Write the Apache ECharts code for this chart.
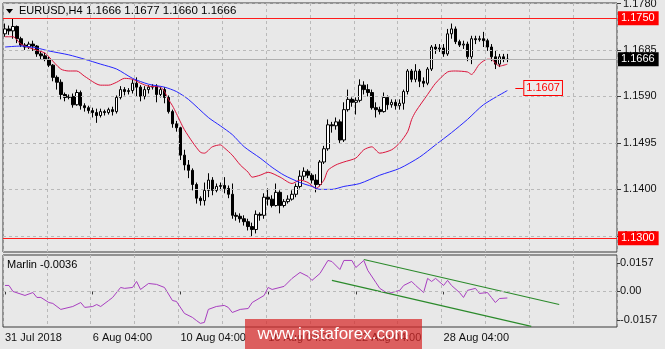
<!DOCTYPE html>
<html><head><meta charset="utf-8">
<script src="https://cdn.jsdelivr.net/npm/echarts@6/dist/echarts.min.js"></script>
<style>html,body{margin:0;padding:0;background:#e8e8e8}#c{width:665px;height:349px}</style>
</head><body><div id="c"></div><script>
const FONT = '"Liberation Sans", Arial, sans-serif';
const symbolName = 'EURUSD,H4';
const indicatorName = 'Marlin';
const slotCount = 154;
const timeLabels = ['31 Jul 2018','6 Aug 04:00','10 Aug 04:00','16 Aug 04:00','22 Aug 04:00','28 Aug 04:00'];
const labelStep = 22;
const priceTicks = [1.1780,1.1685,1.1590,1.1495,1.1400,1.1305];
const marlinTicks = [0.0157,0,-0.0157];
const levelLines = [1.1750,1.1300];
const lastPrice = 1.1666;
const maLabelPrice = 1.1607;
const maLabelSpan = [128,130];
const marlinLast = -0.0036;

const open = [1.1718,1.1728,1.1724,1.1733,1.1708,1.1695,1.1691,1.1697,1.1693,1.1677,
1.1673,1.1666,1.1654,1.1629,1.1619,1.1594,1.1588,1.1590,1.1573,1.1598,
1.1571,1.1567,1.1561,1.1557,1.1551,1.1559,1.1557,1.1563,1.1559,1.1588,
1.1604,1.1600,1.1602,1.1617,1.1609,1.1590,1.1604,1.1609,1.1611,1.1594,
1.1604,1.1588,1.1559,1.1534,1.1526,1.1470,1.1450,1.1439,1.1410,1.1382,
1.1377,1.1398,1.1419,1.1398,1.1406,1.1408,1.1402,1.1390,1.1347,1.1345,
1.1340,1.1334,1.1324,1.1318,1.1349,1.1347,1.1384,1.1380,1.1367,1.1394,
1.1367,1.1375,1.1380,1.1390,1.1406,1.1427,1.1437,1.1429,1.1419,1.1410,
1.1456,1.1483,1.1532,1.1530,1.1538,1.1501,1.1563,1.1584,1.1578,1.1582,
1.1613,1.1604,1.1598,1.1567,1.1563,1.1559,1.1588,1.1573,1.1578,1.1571,
1.1576,1.1600,1.1642,1.1625,1.1642,1.1621,1.1617,1.1646,1.1691,1.1687,
1.1689,1.1677,1.1718,1.1728,1.1702,1.1695,1.1697,1.1671,1.1708,1.1706,
1.1708,1.1704,1.1691,1.1671,1.1656,1.1671,1.1666];
const close = [1.1728,1.1724,1.1733,1.1708,1.1695,1.1691,1.1697,1.1693,1.1677,1.1673,
1.1666,1.1654,1.1629,1.1619,1.1594,1.1588,1.1590,1.1573,1.1598,1.1571,
1.1567,1.1561,1.1557,1.1551,1.1559,1.1557,1.1563,1.1559,1.1588,1.1604,
1.1600,1.1602,1.1617,1.1609,1.1590,1.1604,1.1609,1.1611,1.1594,1.1604,
1.1588,1.1559,1.1534,1.1526,1.1470,1.1450,1.1439,1.1410,1.1382,1.1377,
1.1398,1.1419,1.1398,1.1406,1.1408,1.1402,1.1390,1.1347,1.1345,1.1340,
1.1334,1.1324,1.1318,1.1349,1.1347,1.1384,1.1380,1.1367,1.1394,1.1367,
1.1375,1.1380,1.1390,1.1406,1.1427,1.1437,1.1429,1.1419,1.1410,1.1456,
1.1483,1.1532,1.1530,1.1538,1.1501,1.1563,1.1584,1.1578,1.1582,1.1613,
1.1604,1.1598,1.1567,1.1563,1.1559,1.1588,1.1573,1.1578,1.1571,1.1576,
1.1600,1.1642,1.1625,1.1642,1.1621,1.1617,1.1646,1.1691,1.1687,1.1689,
1.1677,1.1718,1.1728,1.1702,1.1695,1.1697,1.1671,1.1708,1.1706,1.1708,
1.1704,1.1691,1.1671,1.1656,1.1671,1.1666,1.1666];
const high = [1.1739,1.1735,1.1749,1.1735,1.1712,1.1699,1.1702,1.1704,1.1695,1.1683,
1.1679,1.1671,1.1656,1.1633,1.1625,1.1598,1.1594,1.1596,1.1604,1.1602,
1.1576,1.1571,1.1567,1.1565,1.1565,1.1563,1.1567,1.1569,1.1592,1.1611,
1.1609,1.1607,1.1625,1.1629,1.1613,1.1611,1.1613,1.1615,1.1615,1.1609,
1.1609,1.1592,1.1563,1.1540,1.1528,1.1481,1.1460,1.1443,1.1414,1.1386,
1.1414,1.1433,1.1425,1.1412,1.1414,1.1425,1.1408,1.1412,1.1353,1.1351,
1.1347,1.1340,1.1332,1.1357,1.1353,1.1392,1.1402,1.1388,1.1412,1.1398,
1.1380,1.1388,1.1398,1.1412,1.1439,1.1445,1.1441,1.1433,1.1431,1.1460,
1.1489,1.1543,1.1538,1.1547,1.1543,1.1578,1.1604,1.1588,1.1588,1.1625,
1.1621,1.1615,1.1604,1.1578,1.1569,1.1598,1.1592,1.1584,1.1584,1.1584,
1.1604,1.1646,1.1646,1.1656,1.1646,1.1629,1.1650,1.1695,1.1697,1.1697,
1.1697,1.1728,1.1739,1.1733,1.1706,1.1704,1.1702,1.1714,1.1714,1.1714,
1.1722,1.1708,1.1697,1.1683,1.1677,1.1677,1.1677];
const low = [1.1712,1.1716,1.1708,1.1699,1.1691,1.1685,1.1687,1.1683,1.1671,1.1666,
1.1662,1.1650,1.1621,1.1604,1.1584,1.1580,1.1584,1.1567,1.1571,1.1563,
1.1559,1.1555,1.1547,1.1536,1.1547,1.1551,1.1553,1.1551,1.1555,1.1584,
1.1592,1.1594,1.1596,1.1590,1.1580,1.1584,1.1596,1.1604,1.1578,1.1588,
1.1576,1.1555,1.1526,1.1518,1.1460,1.1439,1.1423,1.1398,1.1371,1.1367,
1.1367,1.1384,1.1388,1.1394,1.1398,1.1392,1.1382,1.1340,1.1336,1.1332,
1.1326,1.1316,1.1304,1.1310,1.1336,1.1340,1.1367,1.1363,1.1365,1.1351,
1.1363,1.1371,1.1377,1.1384,1.1402,1.1419,1.1423,1.1412,1.1394,1.1406,
1.1452,1.1479,1.1516,1.1522,1.1495,1.1497,1.1559,1.1569,1.1553,1.1578,
1.1594,1.1590,1.1563,1.1547,1.1553,1.1557,1.1563,1.1567,1.1563,1.1563,
1.1563,1.1594,1.1619,1.1619,1.1609,1.1609,1.1613,1.1642,1.1677,1.1681,
1.1671,1.1673,1.1708,1.1697,1.1691,1.1687,1.1662,1.1656,1.1697,1.1702,
1.1691,1.1683,1.1662,1.1646,1.1650,1.1660,1.1660];

// moving averages: [bar index, price]
const redMA = [[0,1.1712],[2,1.1712],[4,1.1697],[7,1.1687],[10,1.1679],[11,1.1671],[14,1.1646],[16,1.1642],[18,1.1642],[20,1.1631],
[24,1.1613],[26,1.1613],[28,1.1619],[30,1.1627],[32,1.1625],[34,1.1617],[36,1.1611],[39,1.1609],[40,1.1600],[41,1.1584],
[42,1.1571],[43,1.1555],[44,1.1538],[45,1.1522],[47,1.1497],[49,1.1476],[50,1.1474],[52,1.1487],[54,1.1491],[55,1.1485],
[57,1.1470],[59,1.1450],[61,1.1435],[62,1.1425],[64,1.1429],[66,1.1435],[69,1.1425],[72,1.1412],[74,1.1419],[76,1.1414],
[78,1.1402],[80,1.1419],[81,1.1439],[83,1.1450],[85,1.1456],[88,1.1464],[90,1.1481],[92,1.1487],[94,1.1474],[97,1.1481],
[99,1.1495],[101,1.1518],[102,1.1543],[103,1.1559],[106,1.1594],[108,1.1617],[111,1.1640],[113,1.1642],[116,1.1640],[117,1.1635],
[119,1.1656],[121,1.1666],[122,1.1666],[123,1.1658],[124,1.1652],[126,1.1656]];
const blueMA = [[0,1.1691],[4,1.1693],[8,1.1689],[11,1.1683],[16,1.1675],[20,1.1666],[24,1.1656],[28,1.1646],[32,1.1627],[36,1.1615],
[40,1.1609],[43,1.1600],[46,1.1584],[51,1.1547],[54,1.1530],[57,1.1512],[60,1.1487],[64,1.1464],[67,1.1445],[70,1.1429],
[74,1.1414],[77,1.1406],[79,1.1400],[82,1.1400],[85,1.1406],[89,1.1412],[94,1.1429],[99,1.1443],[104,1.1466],[108,1.1491],
[112,1.1516],[116,1.1543],[120,1.1573],[126,1.1602]];
const marlin = [[0,0.0033],[1,0.0033],[2,0],[5,-0.0022],[7,-0.0006],[8,-0.0033],[9,-0.0033],[11,-0.0061],[12,-0.0066],[14,-0.0099],
[17,-0.0083],[19,-0.0061],[20,-0.0088],[22,-0.0083],[23,-0.0072],[24,-0.0083],[26,-0.0050],[27,-0.0033],[29,0.0022],[30,0.0017],
[32,0.0022],[33,0.0055],[34,0.0011],[36,0.0044],[38,0.0039],[40,0.0022],[42,-0.0050],[43,-0.0055],[45,-0.0121],[47,-0.0143],
[48,-0.0160],[49,-0.0176],[50,-0.0171],[51,-0.0099],[53,-0.0083],[55,-0.0077],[56,-0.0088],[57,-0.0116],[59,-0.0099],[61,-0.0094],
[62,-0.0061],[65,-0.0022],[66,0.0022],[67,0.0011],[70,0.0028],[72,0.0072],[74,0.0105],[76,0.0083],[77,0.0061],[79,0.0099],
[81,0.0171],[82,0.0165],[84,0.0121],[85,0.0171],[87,0.0171],[88,0.0132],[90,0.0171],[91,0.0116],[93,0.0050],[94,0.0017],
[96,-0.0011],[97,-0.0006],[99,0.0006],[100,0.0033],[102,0.0055],[103,0.0033],[105,-0.0006],[106,0.0072],[107,0.0055],[108,0.0072],
[110,0.0033],[111,0.0061],[112,0.0033],[114,-0.0006],[115,-0.0033],[116,0.0006],[118,0.0017],[119,-0.0011],[121,-0.0006],[122,-0.0033],
[123,-0.0061],[124,-0.0039],[126,-0.0036]];
const trendUpper = [[90,0.0176],[139,-0.0072]];
const trendLower = [[82,0.0061],[132,-0.0193]];

const categories = Array.from({length: slotCount}, (_, i) => String(i));
const candleData = open.map((o, i) => [o, close[i], low[i], high[i]]);
const last = open.length - 1;
const ohlcText = [open[last], high[last], low[last], close[last]].map(v => v.toFixed(4)).join(' ');
const showLabel = (idx) => idx % labelStep === 0 && idx / labelStep < timeLabels.length;

const gridLine = {color: '#b9b9b9', type: [3, 3], width: 1};
const noSym = ['none', 'none'];
const boxLabel = {show: true, position: 'end', distance: 1, padding: [2, 4, 1, 3], fontSize: 11, fontFamily: FONT};
const priceGridMarks = priceTicks.map(v => ({yAxis: v, lineStyle: gridLine, label: {show: false}}));
const levelMarks = levelLines.map(v => ({yAxis: v, lineStyle: {color: '#ff1a1a', type: 'solid', width: 1},
  label: Object.assign({}, boxLabel, {formatter: v.toFixed(4), color: '#fff', backgroundColor: '#ff0000'})}));
const lastMark = {yAxis: lastPrice, lineStyle: {color: '#b0b0b0', type: 'solid', width: 1},
  label: Object.assign({}, boxLabel, {formatter: lastPrice.toFixed(4), color: '#fff', backgroundColor: '#000000'})};

const chart = echarts.init(document.getElementById('c'), null, {renderer: 'canvas'});
chart.setOption({
  animation: false,
  backgroundColor: '#e8e8e8',
  textStyle: {fontFamily: FONT},
  grid: [
    {left: 3, right: 48, top: 3, height: 249, show: true, borderColor: '#3a3a3a', borderWidth: 1, outerBoundsMode: 'none', containLabel: false},
    {left: 3, right: 48, top: 255, height: 72, show: true, borderColor: '#3a3a3a', borderWidth: 1, outerBoundsMode: 'none', containLabel: false}
  ],
  xAxis: [
    {type: 'category', gridIndex: 0, data: categories, boundaryGap: true,
     axisLine: {show: false}, axisTick: {show: false}, axisLabel: {show: false},
     splitLine: {show: true, interval: 10, lineStyle: gridLine}},
    {type: 'category', gridIndex: 1, data: categories, boundaryGap: true,
     axisLine: {show: false},
     axisTick: {show: true, alignWithLabel: true, interval: showLabel, length: 3, lineStyle: {color: '#3a3a3a'}},
     axisLabel: {show: true, interval: showLabel, align: 'left', margin: 5, color: '#111', fontSize: 11, fontFamily: FONT,
       formatter: (v, idx) => timeLabels[idx / labelStep] || ''},
     splitLine: {show: true, interval: 10, lineStyle: gridLine}}
  ],
  yAxis: [
    {type: 'value', gridIndex: 0, position: 'right', min: 1.1272, max: 1.1781,
     axisLine: {show: false},
     axisTick: {show: true, customValues: priceTicks, length: 4, lineStyle: {color: '#3a3a3a'}},
     axisLabel: {show: true, customValues: priceTicks, margin: 6, color: '#111', fontSize: 11, fontFamily: FONT, formatter: v => v.toFixed(4)},
     splitLine: {show: false}},
    {type: 'value', gridIndex: 1, position: 'right', min: -0.0196, max: 0.0201,
     axisLine: {show: false},
     axisTick: {show: true, customValues: marlinTicks, length: 3, lineStyle: {color: '#3a3a3a'}},
     axisLabel: {show: true, customValues: marlinTicks, margin: 3, color: '#111', fontSize: 11, fontFamily: FONT,
       formatter: v => v === 0 ? '0.00' : v.toFixed(4)},
     splitLine: {show: false}}
  ],
  series: [
    {type: 'candlestick', xAxisIndex: 0, yAxisIndex: 0, data: candleData, barWidth: 3, z: 2,
     itemStyle: {color: '#ffffff', color0: '#000000', borderColor: '#000000', borderColor0: '#000000', borderWidth: 1}},
    {type: 'line', xAxisIndex: 0, yAxisIndex: 0, data: redMA, showSymbol: false, smooth: 0.25,
     lineStyle: {color: '#dc143c', width: 1}, itemStyle: {color: '#dc143c'}, z: 3,
     markLine: {silent: true, symbol: noSym, animation: false, precision: 4, data: priceGridMarks.concat([lastMark], levelMarks)}},
    {type: 'line', xAxisIndex: 0, yAxisIndex: 0, data: blueMA, showSymbol: false, smooth: 0.25,
     lineStyle: {color: '#2626ff', width: 1}, itemStyle: {color: '#2626ff'}, z: 3,
     markLine: {
       silent: true, symbol: noSym, animation: false, precision: 4,
       lineStyle: {color: '#ff0000', type: 'solid', width: 1},
       label: {show: true, position: 'end', distance: 1, formatter: () => maLabelPrice.toFixed(4),
         color: '#ff0000', fontSize: 11, fontFamily: FONT, borderColor: '#ff0000', borderWidth: 1, padding: [2, 2, 1, 2], backgroundColor: '#ececec'},
       data: [[{coord: [maLabelSpan[0], maLabelPrice]}, {coord: [maLabelSpan[1], maLabelPrice]}]]
     }},
    {type: 'line', xAxisIndex: 1, yAxisIndex: 1, data: marlin, showSymbol: false,
     lineStyle: {color: '#a83ec0', width: 1}, itemStyle: {color: '#a83ec0'}, z: 3,
     markLine: {silent: true, symbol: noSym, animation: false, precision: 4, label: {show: false},
       data: [{yAxis: 0, lineStyle: gridLine}]}},
    {type: 'line', xAxisIndex: 1, yAxisIndex: 1, data: trendUpper, showSymbol: false,
     lineStyle: {color: '#2b8a2b', width: 1.2}, itemStyle: {color: '#2b8a2b'}},
    {type: 'line', xAxisIndex: 1, yAxisIndex: 1, data: trendLower, showSymbol: false,
     lineStyle: {color: '#2b8a2b', width: 1.2}, itemStyle: {color: '#2b8a2b'}}
  ],
  graphic: [
    {type: 'polygon', shape: {points: [[6, 9], [13, 9], [9.5, 13.5]]}, style: {fill: '#000'}, z: 50},
    {type: 'text', x: 19, y: 5, z: 50, style: {text: symbolName, font: '11px ' + FONT, fill: '#000', textVerticalAlign: 'top'}},
    {type: 'text', x: 86, y: 5, z: 50, style: {text: ohlcText, font: '11.5px ' + FONT, fill: '#000', textVerticalAlign: 'top'}},
    {type: 'text', x: 7, y: 259, z: 50, style: {text: indicatorName + ' ' + marlinLast.toFixed(4), font: '11px ' + FONT, fill: '#000', textVerticalAlign: 'top'}},
    {type: 'rect', shape: {x: 245, y: 319, width: 177, height: 31}, style: {fill: 'rgba(215,40,40,0.72)'}, z: 100},
    {type: 'text', x: 333, y: 334, z: 101, style: {text: 'www.instaforex.com', font: '17px ' + FONT, fill: '#ffffff', textAlign: 'center', textVerticalAlign: 'middle'}}
  ]
});
</script></body></html>
